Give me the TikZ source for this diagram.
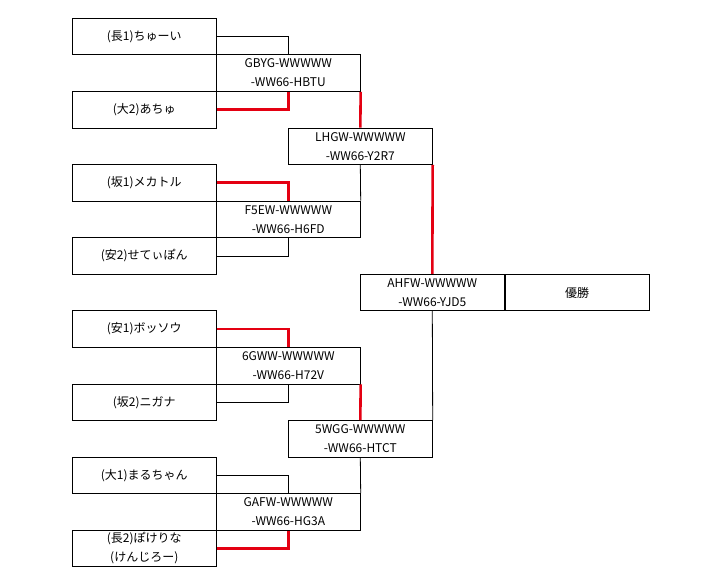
\documentclass[tikz,border=0pt]{standalone}
\usepackage{fontspec}
\setmainfont{Noto Sans CJK JP}
\usepackage{tikz}
\usepackage{xcolor}
\definecolor{winred}{RGB}{228, 0, 18}

\begin{document}
\begin{tikzpicture}[x=1pt, y=-1pt,
  box/.style={draw, line width=0.8pt, minimum width=144pt, minimum height=36.56pt,
    inner sep=0pt, align=center, font=\fontsize{12}{19}\selectfont},
  lose/.style={line width=0.8pt},
  win/.style={line width=2.6pt, winred}]

\useasboundingbox (0,0) rectangle (721,585);

% players
\node[box] (cyui) at (144.3,36.6)  {(長1)ちゅーい};
\node[box] (achu) at (144.3,109.7) {(大2)あちゅ};
\node[box] (meka) at (144.3,182.8) {(坂1)メカトル};
\node[box] (sete) at (144.3,256.0) {(安2)せてぃぽん};
\node[box] (bosu) at (144.3,329.1) {(安1)ボッソウ};
\node[box] (niga) at (144.3,402.2) {(坂2)ニガナ};
\node[box] (maru) at (144.3,475.3) {(大1)まるちゃん};
\node[box] (poke) at (144.3,548.4) {(長2)ぽけりな\\(けんじろー)};

% first round
\node[box] (gbyg) at (288.3,73.1)  {GBYG-WWWWW\\-WW66-HBTU};
\node[box] (f5ew) at (288.3,219.4) {F5EW-WWWWW\\-WW66-H6FD};
\node[box] (gww6) at (288.3,365.7) {6GWW-WWWWW\\-WW66-H72V};
\node[box] (gafw) at (288.3,511.9) {GAFW-WWWWW\\-WW66-HG3A};

% second round
\node[box] (lhgw) at (360.3,146.3) {LHGW-WWWWW\\-WW66-Y2R7};
\node[box] (wgg5) at (360.3,438.8) {5WGG-WWWWW\\-WW66-HTCT};

% final
\node[box] (ahfw) at (432.3,292.5) {AHFW-WWWWW\\-WW66-YJD5};
\node[box, anchor=west] (yusho) at (ahfw.east) {優勝};

\draw[lose] (cyui.east) -| (gbyg.north);
\draw[lose] (sete.east) -| (f5ew.south);
\draw[lose] (niga.east) -| (gww6.south);
\draw[lose] (maru.east) -| (gafw.north);
\draw[lose] (f5ew.north east) -- (lhgw.south);
\draw[lose] (gafw.north east) -- (wgg5.south);
\draw[lose] (wgg5.north east) -- (ahfw.south);

\draw[win] (achu.east) -| (gbyg.south);
\draw[win] (meka.east) -| (f5ew.north);
\draw[win] (bosu.east) -| (gww6.north);
\draw[win] (poke.east) -| (gafw.south);
\draw[win] (gbyg.south east) -- (lhgw.north);
\draw[win] (gww6.south east) -- (wgg5.north);
\draw[win] (lhgw.south east) -- (ahfw.north);
\end{tikzpicture}
\end{document}
